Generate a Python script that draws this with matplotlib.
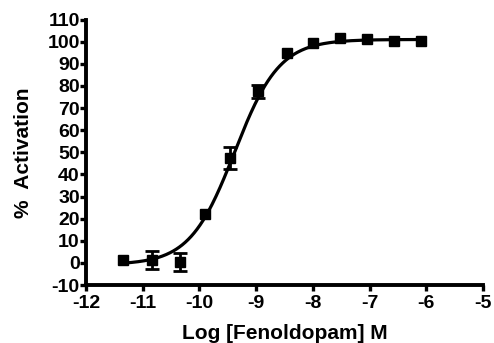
import numpy as np
import matplotlib
matplotlib.use("Agg")
import matplotlib.pyplot as plt

# Data
log_conc = [-11.34, -10.84, -10.34, -9.90, -9.46, -8.96, -8.46, -8.00, -7.52, -7.04, -6.57, -6.09]
activation = [1.5, 1.2, 0.5, 22.0, 47.5, 77.5, 94.8, 99.6, 101.5, 101.0, 100.5, 100.3]
sem = [0.0, 4.0, 4.0, 0.0, 5.0, 3.0, 0.0, 0.0, 0.0, 0.0, 0.0, 0.0]

# Fitted sigmoidal dose-response parameters (estimated)
fit_bottom = -0.8
fit_top = 101.0
fit_logec50 = -9.38
fit_hill = 1.1

xticks = [-12, -11, -10, -9, -8, -7, -6, -5]
yticks = [-10, 0, 10, 20, 30, 40, 50, 60, 70, 80, 90, 100, 110]

plt.rcParams['font.family'] = ['Liberation Sans', 'DejaVu Sans']
plt.rcParams['font.weight'] = 'bold'

fig = plt.figure(figsize=(4.94, 3.43), dpi=100)
ax = fig.add_axes([0.174, 0.169, 0.804, 0.774])

xc = np.linspace(min(log_conc), max(log_conc), 300)
yc = fit_bottom + (fit_top - fit_bottom) / (1 + 10 ** ((fit_logec50 - xc) * fit_hill))
ax.plot(xc, yc, color='black', lw=2.3, zorder=2)

# error bars only where visible in the reference
ex = [x for x, e in zip(log_conc, sem) if e > 0]
ey = [y for y, e in zip(activation, sem) if e > 0]
ee = [e for e in sem if e > 0]
ax.errorbar(ex, ey, yerr=ee, fmt='none', ecolor='black', elinewidth=2.0,
            capsize=4.8, capthick=2.0, zorder=3)
ax.plot(log_conc, activation, 's', color='black', ms=7.5, zorder=4)

ax.set_xlim(-12, -5)
ax.set_ylim(-10, 110)
ax.set_xticks(xticks)
ax.set_yticks(yticks)
ax.set_xticklabels([str(t) for t in xticks])
ax.set_yticklabels([str(t) for t in yticks])

for s in ['top', 'right']:
    ax.spines[s].set_visible(False)
for s in ['left', 'bottom']:
    ax.spines[s].set_linewidth(2.8)
ax.tick_params(axis='y', direction='out', length=4, width=2.4, labelsize=14, pad=0.5)
ax.tick_params(axis='x', direction='out', length=4.5, width=2.4, labelsize=14, pad=3)
for lab in ax.get_xticklabels() + ax.get_yticklabels():
    lab.set_fontweight('bold')

ax.set_xlabel('Log [Fenoldopam] M', fontsize=15, fontweight='bold', labelpad=8)
ax.set_ylabel('%  Activation', fontsize=15, fontweight='bold', labelpad=10)

fig.savefig('out.png', dpi=100)
